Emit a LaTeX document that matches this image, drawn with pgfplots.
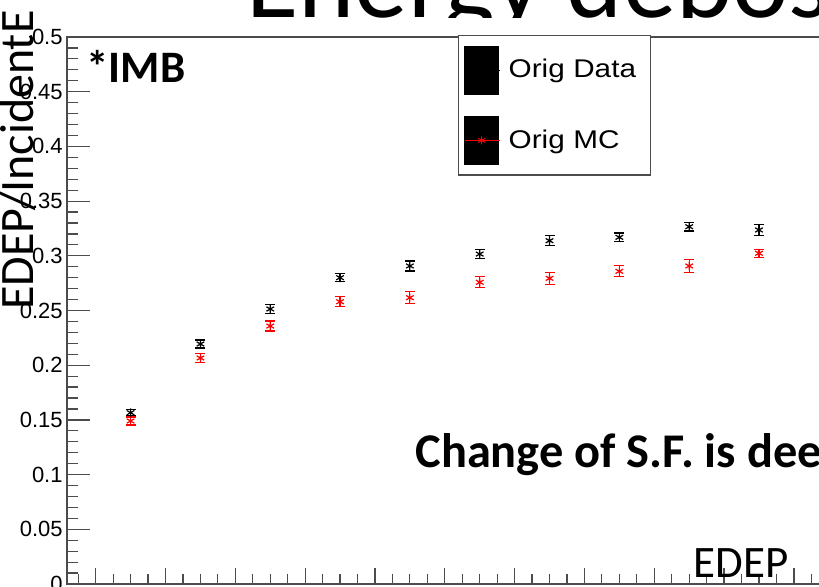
\documentclass[border=0pt]{standalone}
\usepackage{fontspec}
\setmainfont{Liberation Sans}
\newfontfamily\calibri{Carlito}
\newfontfamily\legfont[FakeStretch=1.16]{Liberation Sans}
\usepackage{pgfplots}
\pgfplotsset{compat=1.18}
\begin{document}
\begin{tikzpicture}
\useasboundingbox (0,0) rectangle (409.5pt,293pt);
\clip (0,0) rectangle (409.5pt,293pt);
\begin{scope}
\clip (0pt,284.5pt) rectangle (409.5pt,293pt);
\node[anchor=base west, inner sep=0pt, font=\calibri\fontsize{53.5}{60}\selectfont] at (123pt,284.5pt) {Energy deposit};
\end{scope}
\begin{axis}[
  at={(33.5pt,1pt)}, anchor=south west,
  scale only axis, width=401.5pt, height=273.5pt,
  xmin=-0.411, xmax=11.09, ymin=0, ymax=0.5,
  axis line style={black!70, line width=0.6pt},
  xtick={0,1,2,3,4,5,6,7,8,9,10,11}, xticklabels={},
  minor xtick={-0.25,0,...,11},
  ytick={0,0.05,0.1,0.15,0.2,0.25,0.3,0.35,0.4,0.45,0.5},
  minor ytick={0,0.01,...,0.5},
  tick align=inside, xtick pos=bottom, ytick pos=left,
  tick style={black!70, line width=0.6pt},
  xtick style={/pgfplots/major tick length=8pt, /pgfplots/minor tick length=5pt},
  ytick style={/pgfplots/major tick length=11.5pt, /pgfplots/minor tick length=5.5pt},
  yticklabel style={font=\fontsize{11}{12}\selectfont, inner sep=0pt, xshift=-2pt},
  /pgf/number format/assume math mode=true,
  /pgf/number format/fixed,
  scaled y ticks=false,
  legend cell align=left,
  legend style={at={(0.4869,1.0037)}, anchor=north west, draw=black!70, fill=white,
    line width=0.6pt, inner xsep=2.85pt, inner ysep=5pt, row sep=10.5pt, column sep=4pt,
    font=\legfont\fontsize{12.8}{14}\selectfont,
    nodes={inner sep=0pt, text width=68pt, align=left}},
]
\addplot+[black, only marks, mark=asterisk, mark size=2.2pt,
  mark options={solid, black, line width=0.6pt},
  legend image code/.code={
    \fill[black] (0pt,-12pt) rectangle (16.85pt,12pt);
    \draw[black, line width=0.5pt] (16.85pt,0pt) -- (17.6pt,0pt);},
  error bars/.cd, y dir=both, y explicit,
  error bar style={black, line width=0.6pt},
  error mark options={black, mark size=2.5pt, line width=0.6pt, rotate=90}]
  table[x=x, y=y, y error=e] {
x y e
0.5 0.1566 0.0030
1.5 0.2194 0.0037
2.5 0.2514 0.0038
3.5 0.2800 0.0038
4.5 0.2907 0.0046
5.5 0.3016 0.0040
6.5 0.3138 0.0046
7.5 0.3169 0.0040
8.5 0.3266 0.0040
9.5 0.3236 0.0049
};
\addlegendentry{Orig Data}
\addplot+[red, only marks, mark=asterisk, mark size=2.2pt,
  mark options={solid, red, line width=0.6pt},
  legend image code/.code={
    \fill[black] (0pt,-12pt) rectangle (16.85pt,12pt);
    \draw[red, line width=0.6pt] (0pt,0pt) -- (17.6pt,0pt);
    \draw[red, mark=asterisk, mark size=2pt, mark options={line width=0.5pt}] plot coordinates {(8.4pt,0pt)};},
  error bars/.cd, y dir=both, y explicit,
  error bar style={red, line width=0.6pt},
  error mark options={red, mark size=2.5pt, line width=0.6pt, rotate=90}]
  table[x=x, y=y, y error=e] {
x y e
0.5 0.1490 0.0037
1.5 0.2066 0.0043
2.5 0.2358 0.0046
3.5 0.2580 0.0046
4.5 0.2617 0.0055
5.5 0.2758 0.0050
6.5 0.2794 0.0055
7.5 0.2858 0.0050
8.5 0.2907 0.0056
9.5 0.3023 0.0036
};
\addlegendentry{Orig MC}
\end{axis}
\node[anchor=base east, rotate=90, inner sep=0pt, font=\calibri\fontsize{24}{28}\selectfont] at (17pt,288pt) {EDEP/IncidentE};
\node[anchor=base west, inner sep=0pt, font=\calibri\bfseries\fontsize{22.5}{26}\selectfont] at (43pt,252pt) {*IMB};
\node[anchor=base west, inner sep=0pt, font=\calibri\bfseries\fontsize{24.2}{28}\selectfont] at (207.5pt,59.5pt) {Change of S.F. is dee};
\node[anchor=base west, inner sep=0pt, font=\calibri\fontsize{22.5}{26}\selectfont] at (346.5pt,4.5pt) {EDEP};
\end{tikzpicture}
\end{document}
